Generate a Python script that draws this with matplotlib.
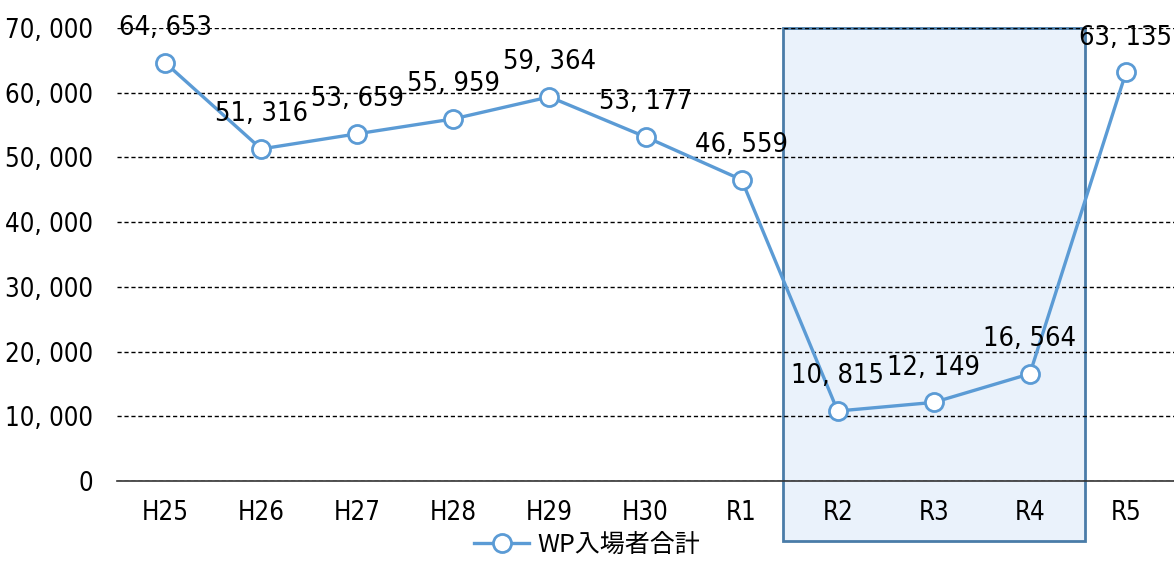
import matplotlib
matplotlib.use("Agg")
from matplotlib import pyplot as plt
from matplotlib.patches import Rectangle
from matplotlib.ticker import FuncFormatter

years = ["H25", "H26", "H27", "H28", "H29", "H30", "R1", "R2", "R3", "R4", "R5"]
visitors = [64653, 51316, 53659, 55959, 59364, 53177, 46559, 10815, 12149, 16564, 63135]
series_name = "WP入場者合計"

plt.rcParams['font.family'] = ['DejaVu Sans', 'Noto Sans CJK JP']
plt.rcParams['font.stretch'] = 'condensed'

line_color = "#5B9BD5"

fig = plt.figure(figsize=(11.74, 5.61), dpi=100)
ax = fig.add_axes([0.0997, 0.1426, 0.9003, 0.8074])

x = list(range(len(years)))

# 強調する範囲 (R2〜R4)
rect = Rectangle((6.43, -9300), 3.14, 79300, facecolor="#EAF2FB", edgecolor="#4A7CA8",
                 linewidth=2, clip_on=False, zorder=0)
ax.add_patch(rect)

ax.plot(x, visitors, color=line_color, linewidth=2.4, marker="o", markersize=13,
        markerfacecolor="white", markeredgecolor=line_color, markeredgewidth=2,
        label=series_name, zorder=3, clip_on=False)

for xi, v in zip(x, visitors):
    ax.annotate("{:,}".format(v).replace(",", ", "), (xi, v), xytext=(0, 25),
                textcoords="offset points", ha="center", va="center", fontsize=19.5,
                zorder=4, annotation_clip=False)

ax.set_xlim(-0.5, len(years) - 0.5)
ax.set_ylim(0, 70000)
ax.set_yticks(range(0, 70001, 10000))
ax.yaxis.set_major_formatter(FuncFormatter(lambda v, p: "{:,}".format(int(v)).replace(",", ", ")))
ax.set_xticks(x)
ax.set_xticklabels(years)
ax.tick_params(axis="both", length=0, labelsize=18.5)
ax.tick_params(axis="x", pad=14)
ax.tick_params(axis="y", pad=17)
ax.yaxis.grid(True, linestyle=(0, (3, 2)), color="black", linewidth=1)
ax.set_axisbelow(True)
for s in ["left", "right", "top"]:
    ax.spines[s].set_visible(False)
ax.spines["bottom"].set_color("#333333")
ax.spines["bottom"].set_linewidth(1.2)
ax.patch.set_alpha(0)

fig.legend(loc="lower center", bbox_to_anchor=(0.5, -0.035), frameon=False,
           prop={"family": ["Noto Sans CJK JP"], "size": 18}, handlelength=2.2,
           handletextpad=0.3)

plt.savefig("out.png")
